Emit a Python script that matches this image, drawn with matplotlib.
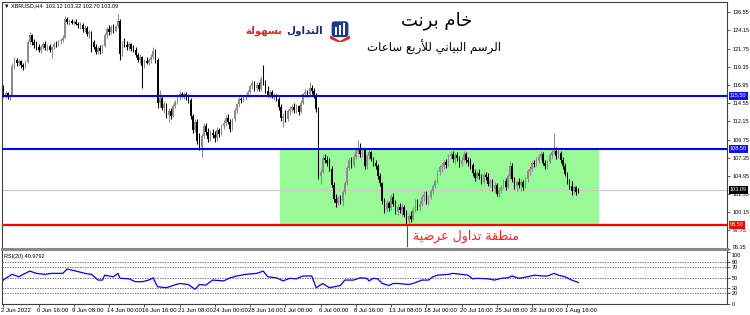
import numpy as np
import matplotlib
matplotlib.use("Agg")
import matplotlib.pyplot as plt
import matplotlib.transforms as mtransforms
from matplotlib.patches import Rectangle, FancyBboxPatch, Polygon

plt.rcParams['font.family'] = ['Liberation Sans', 'DejaVu Sans']

# XBRUSD H4 candles, 2 Jun 2022 -> 2 Aug 2022
opens = [116.4, 115.6, 115.9, 115.3, 115.6, 119.4, 120.2, 119.9, 120.1, 119.6, 119.3,
         120.0, 122.6, 123.5, 122.6,
         122.2, 122.0, 121.5, 121.9, 122.4, 121.8, 122.1, 121.6,
         121.9, 122.4, 122.3, 122.7, 122.9,
         123.2,
         125.6, 125.2, 125.4, 125.1, 125.3, 125.0, 124.8, 124.9,
         124.3, 124.5, 123.7, 123.9,
         122.6, 122.0, 121.3, 121.8, 121.4,
         122.1, 123.5, 124.3, 123.9, 124.6, 124.1, 124.7,
         125.4, 121.0,
         122.5, 122.2, 121.9, 122.3, 121.7, 121.5, 120.9, 120.3, 120.6, 119.5, 120.1, 119.9, 120.2, 120.7, 121.4,
         120.3, 114.6, 115.2, 113.9, 114.4, 113.0, 113.5, 112.9, 114.2, 114.7, 115.5, 115.7, 115.5, 115.8, 115.3,
         115.0, 112.8, 111.0, 112.1, 109.6, 108.8, 110.2, 111.5, 110.7, 109.8, 110.6, 110.4, 109.9, 111.0, 110.5,
         111.5, 111.9, 112.6, 112.1, 111.2, 112.4, 113.6, 114.4, 115.1, 114.9, 115.4, 115.6, 116.0, 116.8, 117.2,
         116.5, 117.0, 116.4, 117.7, 117.3, 116.2, 115.6, 116.0, 115.5, 115.6,
         115.1, 114.0, 112.6, 112.9, 112.4, 113.5, 113.8, 114.1, 113.6, 114.2, 113.4, 114.6, 115.7, 116.0, 115.7,
         116.6, 116.2, 115.6,
         113.8, 105.0, 105.5, 107.3, 107.0, 106.6, 105.9, 103.8, 101.9, 101.4, 102.0, 101.6, 102.8, 104.0, 106.0,
         107.0, 106.4, 107.5, 108.2, 108.5, 107.9,
         108.4, 106.2, 107.6, 108.1, 107.2, 106.6, 106.2, 105.0, 104.0, 101.6, 100.5, 101.4, 100.7, 102.2, 101.3,
         100.2, 100.9, 100.4, 100.8, 99.8, 99.0, 99.6, 99.3, 100.5, 101.6, 100.8,
         101.3, 102.1, 102.6, 101.7, 102.1, 102.9, 103.6, 104.3, 105.4, 106.1, 106.3, 106.8, 106.4, 107.6, 107.9,
         107.2, 107.7, 107.3, 106.5, 107.1, 107.9, 107.0, 106.8,
         106.4, 105.3, 104.7, 105.3, 105.0, 104.2, 105.1, 104.8, 103.9, 104.3, 103.2, 103.8, 102.6, 103.1, 103.5,
         104.3, 103.5, 104.9, 106.2, 104.5, 103.6, 104.1, 103.8, 104.2, 103.5,
         104.5, 105.6, 105.9, 106.6, 106.5, 107.1, 107.4, 107.8, 106.7, 106.2, 106.8, 107.7, 108.1, 108.3, 107.6,
         108.0, 107.0, 106.3, 105.2, 104.3, 103.6, 102.9, 103.5, 103.12]

highs = [116.9, 116.2, 116.0, 115.8, 119.8, 120.6, 120.5, 120.4, 120.3, 119.9, 120.2,
         122.9, 123.9, 123.7, 123.0,
         122.7, 122.4, 122.2, 122.6, 122.7, 122.3, 122.3, 122.1,
         122.6, 122.8, 122.9, 123.2, 123.5,
         126.0,
         125.9, 125.6, 125.7, 125.5, 125.6, 125.3, 125.2, 125.1,
         124.9, 124.7, 124.2, 124.1,
         122.9, 122.3, 122.1, 122.2, 122.3,
         123.8, 124.6, 124.9, 124.8, 125.0, 124.9, 126.3,
         125.6, 122.8,
         123.2, 122.8, 122.6, 122.5, 122.2, 121.9, 121.2, 121.0, 120.8, 120.4, 120.6, 120.5, 121.0, 122.0, 121.7,
         120.5, 116.3, 115.6, 114.8, 114.6, 113.9, 113.9, 114.5, 115.0, 115.8, 116.1, 116.0, 116.0, 116.0, 115.7,
         115.2, 113.1, 112.4, 112.4, 110.6, 110.5, 111.9, 111.9, 111.3, 111.0, 111.2, 110.9, 111.4, 111.3, 111.8,
         112.3, 113.0, 113.1, 112.5, 112.6, 113.9, 114.6, 115.3, 115.4, 115.6, 115.8, 116.3, 117.0, 117.6, 117.5,
         117.3, 117.4, 118.1, 119.6, 117.6, 116.8, 116.3, 116.3, 115.9, 115.8,
         115.3, 114.4, 113.3, 113.6, 113.8, 114.2, 114.5, 114.6, 114.4, 114.3, 114.9, 115.9, 116.4, 116.3, 117.3,
         117.0, 116.5, 115.9,
         114.1, 105.9, 107.7, 107.8, 107.6, 107.3, 106.2, 104.2, 102.6, 102.3, 102.4, 103.1, 104.3, 106.3, 107.3,
         107.4, 107.8, 108.6, 109.7, 109.3, 108.8,
         108.6, 107.9, 108.5, 108.3, 107.5, 107.1, 106.5, 105.3, 104.2, 102.0, 101.8, 101.7, 102.5, 102.7, 101.8,
         101.2, 101.4, 101.2, 101.1, 100.4, 100.1, 100.3, 100.8, 101.9, 101.9, 101.6,
         102.4, 103.0, 102.9, 102.4, 103.2, 103.9, 104.6, 105.7, 106.4, 106.6, 107.0, 107.2, 107.9, 108.2, 108.3,
         108.0, 108.1, 107.6, 107.4, 108.2, 108.1, 107.5, 107.3,
         106.6, 105.9, 105.6, 105.8, 105.2, 105.4, 105.5, 105.3, 104.6, 104.5, 104.1, 104.0, 103.4, 103.7, 104.6,
         104.7, 105.2, 106.8, 106.6, 104.8, 104.4, 104.7, 104.5, 104.4, 104.8,
         105.9, 106.3, 106.9, 107.0, 107.4, 107.8, 108.3, 108.1, 107.1, 107.0, 108.0, 108.4, 110.6, 108.7, 108.4,
         108.2, 107.4, 106.7, 105.5, 104.6, 104.3, 103.8, 103.6, 103.32]

lows = [115.3, 115.2, 115.1, 114.9, 115.5, 119.1, 119.5, 119.4, 119.2, 118.9, 119.2,
        119.9, 122.3, 122.2, 121.8,
        121.6, 121.3, 121.2, 121.7, 121.6, 121.4, 121.3, 120.5,
        121.7, 122.0, 122.1, 122.4, 122.6,
        123.1,
        125.0, 124.9, 125.0, 124.8, 124.9, 124.5, 124.4, 124.0,
        123.9, 123.4, 123.1, 121.3,
        121.7, 121.0, 121.0, 121.1, 121.2,
        121.9, 123.2, 123.6, 123.7, 123.8, 123.9, 124.5,
        120.3, 120.8,
        121.9, 121.6, 121.5, 121.4, 121.3, 120.6, 120.0, 119.8, 116.6, 119.2, 119.7, 119.6, 119.9, 120.4, 119.9,
        113.9, 114.0, 113.6, 113.3, 112.6, 112.1, 112.4, 112.7, 113.9, 114.5, 115.0, 115.3, 115.1, 115.0, 114.6,
        112.5, 110.6, 110.7, 109.2, 108.4, 107.4, 109.9, 110.3, 109.4, 109.5, 110.0, 109.4, 109.6, 110.1, 110.3,
        111.1, 111.6, 111.8, 110.8, 111.0, 112.2, 113.3, 114.1, 114.6, 114.7, 115.0, 115.3, 115.8, 116.4, 116.2,
        116.1, 116.2, 116.2, 117.0, 115.9, 115.3, 115.2, 115.2, 115.0, 114.8,
        113.6, 112.2, 111.4, 112.0, 112.2, 113.0, 113.4, 113.2, 113.3, 113.0, 113.2, 114.4, 115.3, 115.4, 115.6,
        115.8, 115.2, 113.4,
        104.5, 103.9, 105.3, 106.6, 106.2, 105.6, 103.5, 101.5, 100.9, 101.1, 101.2, 101.0, 102.5, 103.8, 105.7,
        106.0, 106.1, 107.2, 107.8, 107.5, 107.4,
        105.8, 105.9, 107.2, 106.9, 106.2, 105.8, 104.6, 103.6, 101.2, 100.1, 100.2, 100.3, 100.5, 101.0, 99.9,
        99.8, 100.1, 99.7, 99.5, 98.6, 98.5, 98.9, 99.1, 100.2, 100.4, 100.3,
        101.0, 101.6, 101.3, 101.1, 101.9, 102.6, 103.3, 104.0, 105.1, 105.5, 105.8, 106.0, 106.2, 107.2, 106.8,
        106.5, 106.9, 106.1, 106.2, 106.9, 106.6, 106.2, 105.9,
        105.0, 104.3, 104.5, 104.6, 103.9, 104.0, 104.4, 103.6, 103.5, 102.9, 102.8, 102.3, 102.2, 102.7, 103.2,
        103.1, 103.3, 104.6, 104.2, 103.2, 103.0, 103.4, 102.9, 103.1, 103.3,
        104.2, 105.1, 105.6, 106.1, 106.3, 106.6, 107.0, 106.4, 105.9, 105.8, 106.6, 107.3, 107.8, 107.2, 107.3,
        106.7, 105.9, 104.9, 103.9, 103.2, 102.4, 102.6, 102.4, 102.70]

closes = [115.6, 115.9, 115.3, 115.6, 119.4, 120.2, 119.9, 120.1, 119.6, 119.3, 120.0,
          122.6, 123.5, 122.6, 122.2,
          122.0, 121.5, 121.9, 122.4, 121.8, 122.1, 121.6, 121.9,
          122.4, 122.3, 122.7, 122.9, 123.2,
          125.6,
          125.2, 125.4, 125.1, 125.3, 125.0, 124.8, 124.9, 124.3,
          124.5, 123.7, 123.9, 122.6,
          122.0, 121.3, 121.8, 121.4, 122.1,
          123.5, 124.3, 123.9, 124.6, 124.1, 124.7, 125.4,
          121.0, 122.5,
          122.2, 121.9, 122.3, 121.7, 121.5, 120.9, 120.3, 120.6, 119.5, 120.1, 119.9, 120.2, 120.7, 121.4, 120.3,
          114.6, 115.2, 113.9, 114.4, 113.0, 113.5, 112.9, 114.2, 114.7, 115.5, 115.7, 115.5, 115.8, 115.3, 115.0,
          112.8, 111.0, 112.1, 109.6, 108.8, 110.2, 111.5, 110.7, 109.8, 110.6, 110.4, 109.9, 111.0, 110.5, 111.5,
          111.9, 112.6, 112.1, 111.2, 112.4, 113.6, 114.4, 115.1, 114.9, 115.4, 115.6, 116.0, 116.8, 117.2, 116.5,
          117.0, 116.4, 117.7, 117.3, 116.2, 115.6, 116.0, 115.5, 115.6, 115.1,
          114.0, 112.6, 112.9, 112.4, 113.5, 113.8, 114.1, 113.6, 114.2, 113.4, 114.6, 115.7, 116.0, 115.7, 116.6,
          116.2, 115.6, 113.8,
          105.0, 105.5, 107.3, 107.0, 106.6, 105.9, 103.8, 101.9, 101.4, 102.0, 101.6, 102.8, 104.0, 106.0, 107.0,
          106.4, 107.5, 108.2, 108.5, 107.9, 108.4,
          106.2, 107.6, 108.1, 107.2, 106.6, 106.2, 105.0, 104.0, 101.6, 100.5, 101.4, 100.7, 102.2, 101.3, 100.2,
          100.9, 100.4, 100.8, 99.8, 99.0, 99.6, 99.3, 100.5, 101.6, 100.8, 101.3,
          102.1, 102.6, 101.7, 102.1, 102.9, 103.6, 104.3, 105.4, 106.1, 106.3, 106.8, 106.4, 107.6, 107.9, 107.2,
          107.7, 107.3, 106.5, 107.1, 107.9, 107.0, 106.8, 106.4,
          105.3, 104.7, 105.3, 105.0, 104.2, 105.1, 104.8, 103.9, 104.3, 103.2, 103.8, 102.6, 103.1, 103.5, 104.3,
          103.5, 104.9, 106.2, 104.5, 103.6, 104.1, 103.8, 104.2, 103.5, 104.5,
          105.6, 105.9, 106.6, 106.5, 107.1, 107.4, 107.8, 106.7, 106.2, 106.8, 107.7, 108.1, 108.3, 107.6, 108.0,
          107.0, 106.3, 105.2, 104.3, 103.6, 102.9, 103.5, 102.8, 103.09]

# RSI(20) read at these bar positions
rsi_bar = [0, 1, 4, 7, 9, 12, 15, 19, 22, 27, 29, 33, 37, 40, 43, 45, 46, 50, 52, 53,
           57, 60, 63, 66, 68, 70, 74, 77, 80, 84, 87, 89, 92, 95, 100, 103, 106, 110, 115, 118,
           120, 124, 127, 130, 133, 136, 140, 142, 145, 148, 153, 155, 159, 162, 165, 166, 168, 170, 172, 175,
           177, 179, 184, 186, 190, 193, 195, 197, 202, 204, 208, 211, 213, 215, 220, 223, 226, 229, 231, 234,
           238, 241, 245, 247, 250, 252, 255, 258, 261]
rsi_val = [45.6, 49, 56.7, 52, 56.7, 63, 58.6, 56.7, 58.6, 58.6, 67, 63, 58.6, 56.7, 45.6, 45.6, 55, 52, 58.6, 49,
           48, 42.4, 42.4, 45.6, 50, 32.7, 30.8, 35, 39, 37, 27.6, 37, 36, 45.6, 44, 50, 53.5, 56.7, 58.6, 63,
           52, 50, 44, 49, 48, 53.5, 53.5, 30.8, 39, 30.8, 35, 45.6, 45.6, 50, 49, 44, 49, 48, 39, 35,
           39, 39, 37, 39, 45.6, 45.6, 52, 55, 56.7, 58.6, 56.7, 55, 48, 49, 48, 45.6, 49, 50, 53.5, 49,
           52, 55, 53.5, 53.5, 58.6, 55, 52, 45.6, 40.98]

price_ticks = [126.55, 124.15, 121.75, 119.35, 116.95, 114.55, 112.15, 109.75, 107.35, 104.95,
               102.55, 100.15, 97.75, 95.35]
rsi_levels = [80, 70, 50, 30, 20]
rsi_ticks = [0, 20, 30, 50, 70, 80, 100]
date_labels = ['2 Jun 2022', '6 Jun 16:00', '9 Jun 08:00', '14 Jun 00:00', '16 Jun 16:00',
               '21 Jun 08:00', '24 Jun 00:00', '28 Jun 16:00', '1 Jul 08:00', '6 Jul 00:00',
               '8 Jul 16:00', '13 Jul 08:00', '18 Jul 00:00', '20 Jul 16:00', '25 Jul 08:00',
               '28 Jul 00:00', '1 Aug 16:00']
resistance = [115.50, 108.50]
support = 98.50
last_price = 103.09


# simple arabic shaping (presentation forms) so matplotlib shows joined, RTL text
AR = {'ا': (0xFE8D, 0), 'أ': (0xFE83, 0), 'ب': (0xFE8F, 1), 'ة': (0xFE93, 0), 'ت': (0xFE95, 1),
      'خ': (0xFEA5, 1), 'د': (0xFEA9, 0), 'ر': (0xFEAD, 0), 'س': (0xFEB1, 1), 'ض': (0xFEBD, 1),
      'ط': (0xFEC1, 1), 'ع': (0xFEC9, 1), 'ق': (0xFED5, 1), 'ل': (0xFEDD, 1), 'م': (0xFEE1, 1),
      'ن': (0xFEE5, 1), 'ه': (0xFEE9, 1), 'و': (0xFEED, 0), 'ي': (0xFEF1, 1)}
LAM_ALEF = {'ا': 0xFEFB, 'أ': 0xFEF7}


def shape(s):
    out = []
    prev = False
    i = 0
    while i < len(s):
        ch = s[i]
        if ch not in AR:
            out.append(ch)
            prev = False
            i += 1
            continue
        if ch == 'ل' and i + 1 < len(s) and s[i + 1] in LAM_ALEF:
            out.append(chr(LAM_ALEF[s[i + 1]] + (1 if prev else 0)))
            prev = False
            i += 2
            continue
        base, dual = AR[ch]
        nxt = dual and i + 1 < len(s) and s[i + 1] in AR
        if prev and nxt:
            code = base + 3
        elif prev:
            code = base + 1
        elif nxt:
            code = base + 2
        else:
            code = base
        out.append(chr(code))
        prev = bool(dual)
        i += 1
    return ''.join(reversed(out))


W, H = 750, 315
SMALL = 4.0


def box(x0, y0, x1, y1):
    return [x0 / W, 1 - y1 / H, (x1 - x0) / W, (y1 - y0) / H]


fig = plt.figure(figsize=(7.5, 3.15), dpi=100)
ax = fig.add_axes(box(2, 2, 727, 249))
ax2 = fig.add_axes(box(2, 250, 727, 304), sharex=ax)

o = np.array(opens)
hi = np.array(highs)
lo = np.array(lows)
c = np.array(closes)
x = np.arange(len(c))
up = c >= o
cols = np.where(up, '#8c8c8c', '#000000')

# range box
ax.add_patch(Rectangle((125.6, support), 144.8, resistance[1] - support,
                       facecolor='#98fb98', edgecolor='none', zorder=0))
ax.axhline(last_price, color='#c8c8c8', lw=0.8, zorder=1)

ax.vlines(x, np.minimum(lo, np.minimum(o, c)), np.maximum(hi, np.maximum(o, c)),
          colors=cols, lw=0.75, zorder=2)
ax.bar(x, np.abs(c - o), bottom=np.minimum(o, c), width=0.7, color=cols, lw=0, zorder=2)

for r in resistance:
    ax.axhline(r, color='#0000ff', lw=1.5, zorder=3)
ax.axhline(support, color='#ff0000', lw=1.6, zorder=3)
ax.plot([183.3, 183.3], [support, 95.7], color='#505050', lw=0.8, zorder=3)

ax.set_xlim(-0.6, 328.5)
ax.set_ylim(95.3, 127.9)
ax.yaxis.tick_right()
ax.set_yticks(price_ticks)
ax.set_yticklabels([f'{t:.2f}' for t in price_ticks])
ax.tick_params(axis='y', direction='out', length=2.5, width=0.6, labelsize=SMALL, pad=1.5,
               color='#404040')
ax.tick_params(axis='x', bottom=False, labelbottom=False)
for s in ['left', 'top', 'right']:
    ax.spines[s].set_color('#404040')
    ax.spines[s].set_linewidth(0.8)
ax.spines['bottom'].set_visible(False)
# lowest price label sits just above the panel separator
up1 = mtransforms.ScaledTranslation(0, 1.5 / 100, fig.dpi_scale_trans)
ylbls = ax.get_yticklabels()
ylbls[-1].set_transform(ylbls[-1].get_transform() + up1)

trans = mtransforms.blended_transform_factory(ax.transAxes, ax.transData)
for val, fc in [(resistance[0], '#1010ff'), (resistance[1], '#1010ff'),
                (last_price, '#000000'), (support, '#ff0000')]:
    ax.text(1.004, val, f'{val:.2f}', transform=trans, ha='left', va='center', fontsize=SMALL,
            color='white', clip_on=False, zorder=5,
            bbox=dict(boxstyle='square,pad=0.25', fc=fc, ec='none'))

# RSI panel
for lv in rsi_levels:
    ax2.axhline(lv, color='#505050', lw=0.6, ls=(0, (1.5, 1.5)))
ax2.plot(rsi_bar, rsi_val, color='#0000ff', lw=0.9)
ax2.set_ylim(-0.8, 103.9)
ax2.yaxis.tick_right()
ax2.set_yticks(rsi_ticks)
ax2.tick_params(axis='y', direction='out', length=2, width=0.6, labelsize=SMALL, pad=1.5,
                color='#404040')
down3 = mtransforms.ScaledTranslation(0, -3 / 100, fig.dpi_scale_trans)
rlbls = ax2.get_yticklabels()
rlbls[-1].set_transform(rlbls[-1].get_transform() + down3)
ax2.set_xticks(np.arange(len(date_labels)) * 16)
ax2.set_xticklabels(date_labels)
ax2.tick_params(axis='x', direction='out', length=2, width=0.6, labelsize=4.3, pad=1.2,
                color='#404040')
shift = mtransforms.ScaledTranslation(-2 / 100, 0, fig.dpi_scale_trans)
for lbl in ax2.get_xticklabels():
    lbl.set_horizontalalignment('left')
    lbl.set_transform(lbl.get_transform() + shift)
for s in ['left', 'bottom', 'right']:
    ax2.spines[s].set_color('#404040')
    ax2.spines[s].set_linewidth(0.8)
ax2.spines['top'].set_visible(False)

# separator between panels
fig.add_artist(plt.Line2D([2 / W, 727 / W], [1 - 249 / H, 1 - 249 / H], color='#8a8a8a', lw=2.2))

fig.text(4 / W, 1 - 6 / H, '▼ XBRUSD,H4  103.12 103.32 102.70 103.09', fontsize=SMALL,
         ha='left', va='center')
fig.text(4 / W, 1 - 256.5 / H, 'RSI(20) 40.9792', fontsize=SMALL, ha='left', va='center')

# titles
ar_font = ['DejaVu Sans']
fig.text(437 / W, 1 - 21 / H, shape('خام برنت'), fontsize=13, ha='center', va='center',
         family=ar_font)
fig.text(434 / W, 1 - 47 / H, shape('الرسم البياني للأربع ساعات'), fontsize=8.5,
         ha='center', va='center', family=ar_font)
fig.text(466 / W, 1 - 236 / H, shape('منطقة تداول عرضية'), fontsize=9, color='#ff2020',
         ha='center', va='center', family=ar_font)

# logo
fig.text(264 / W, 1 - 31 / H, shape('بسهولة'), fontsize=7.3, fontweight='bold', color='#e3202a',
         ha='center', va='center', family=ar_font)
fig.text(305 / W, 1 - 31 / H, shape('التداول'), fontsize=7.5, fontweight='bold', color='#1b2a6b',
         ha='center', va='center', family=ar_font)
lax = fig.add_axes(box(330, 20, 350, 42))
lax.set_xlim(0, 1)
lax.set_ylim(0, 1)
lax.axis('off')
lax.add_patch(FancyBboxPatch((0.08, 0.22), 0.84, 0.72, boxstyle='round,pad=0,rounding_size=0.15',
                             fc='#1b3a8c', ec='none'))
for bx, bh in [(0.25, 0.35), (0.45, 0.45), (0.65, 0.55)]:
    lax.add_patch(Rectangle((bx, 0.32), 0.1, bh, fc='white', ec='none'))
lax.add_patch(Polygon([[0.0, 0.3], [0.5, 0.05], [1.0, 0.3], [1.0, 0.15], [0.5, -0.05], [0.0, 0.15]],
                      closed=True, fc='#e3202a', ec='none'))

fig.savefig('out.png', dpi=100)
